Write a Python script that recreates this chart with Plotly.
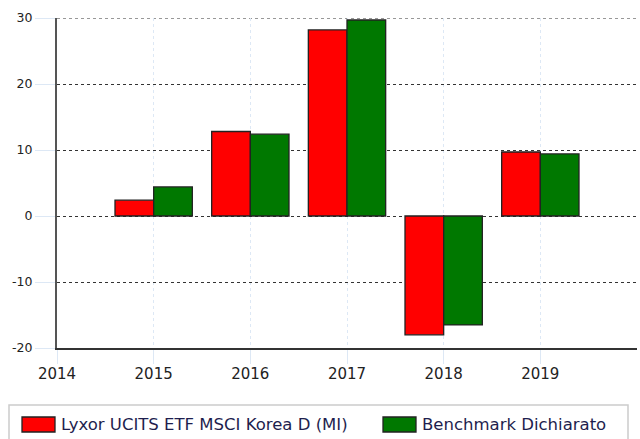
import plotly.graph_objects as go

years = [2015, 2016, 2017, 2018, 2019]
fund = [2.4, 12.8, 28.2, -18.0, 9.7]
bench = [4.4, 12.4, 29.7, -16.5, 9.4]
names = ["Lyxor UCITS ETF MSCI Korea D (MI)", "Benchmark Dichiarato"]
colors = ["#ff0000", "#007800"]
x_ticks = [2014, 2015, 2016, 2017, 2018, 2019]
y_ticks = [-20, -10, 0, 10, 20, 30]

PW, PH, L, T = 580, 330, 57, 18
BOTTOM = T + PH


def px(x):
    return (x - L) / PW


def py(y):
    return (BOTTOM - y) / PH


fig = go.Figure()
fig.add_trace(go.Bar(x=years, y=fund, name=names[0], showlegend=False,
                     marker=dict(color=colors[0], line=dict(color="#222222", width=1.3))))
fig.add_trace(go.Bar(x=years, y=bench, name=names[1], showlegend=False,
                     marker=dict(color=colors[1], line=dict(color="#222222", width=1.3))))

shapes = [
    dict(type="rect", xref="paper", yref="paper", x0=px(9), x1=px(628), y0=py(446), y1=py(405),
         line=dict(color="#cccccc", width=1.5), fillcolor="rgba(0,0,0,0)", layer="below"),
    dict(type="line", xref="paper", yref="y", x0=0, x1=1, y0=30, y1=30,
         line=dict(color="#333333", width=1, dash="dot"), layer="below"),
]
annotations = []
leg_sym_x = [22, 383]
leg_txt_x = [59, 420]
for i in range(2):
    shapes.append(dict(type="rect", xref="paper", yref="paper",
                       x0=px(leg_sym_x[i]), x1=px(leg_sym_x[i] + 33), y0=py(432), y1=py(417),
                       line=dict(color="#222222", width=1.3), fillcolor=colors[i]))
    annotations.append(dict(xref="paper", yref="paper", x=px(leg_txt_x[i]), y=py(424.5),
                            xanchor="left", yanchor="middle", showarrow=False, text=names[i],
                            font=dict(family="DejaVu Sans", size=16.5, color="#1e1e4e")))

fig.update_layout(
    width=640, height=439,
    margin=dict(l=L, r=3, t=T, b=91, autoexpand=False),
    barmode="group", bargap=0.2, bargroupgap=0,
    plot_bgcolor="white", paper_bgcolor="white",
    font=dict(family="DejaVu Sans", size=12, color="#222222"),
    showlegend=False,
    shapes=shapes,
    annotations=annotations,
)
fig.update_xaxes(range=[2014, 2020], tickvals=x_ticks, ticktext=[str(v) for v in x_ticks],
                 showgrid=True, gridcolor="#dde8f5", griddash="dot", gridwidth=1,
                 ticks="outside", ticklen=14, tickcolor="#dde8f5", ticklabelstandoff=-3,
                 showline=True, linecolor="#333333", linewidth=1.5, zeroline=False,
                 tickfont=dict(size=15))
fig.update_yaxes(range=[-20, 30], tickvals=y_ticks, ticktext=[str(v) for v in y_ticks],
                 showgrid=True, gridcolor="#333333", griddash="dot", gridwidth=1,
                 ticks="outside", ticklen=20, tickcolor="#dde8f5",
                 showline=True, linecolor="#555555", linewidth=2, zeroline=False,
                 tickfont=dict(size=12.5))

fig.write_html("out.html", config={"displayModeBar": False},
               post_script="document.body.style.margin='0';document.body.style.overflow='hidden';")
